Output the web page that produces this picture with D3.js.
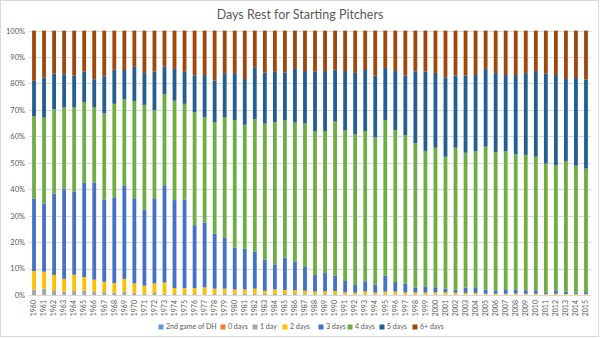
<!DOCTYPE html>
<html><head><meta charset="utf-8">
<script src="https://cdn.jsdelivr.net/npm/d3@7"></script>
<style>body{margin:0;background:#fff}svg{display:block}text{font-family:Lato,"Open Sans",sans-serif;fill:#595959}</style>
</head><body><svg id="c" width="600" height="339"></svg>
<script>
const years = d3.range(1960, 2016).map(String);
const seriesNames = ["2nd game of DH","0 days","1 day","2 days","3 days","4 days","5 days","6+ days"];
const seriesColors = ["#5B9BD5","#ED7D31","#A5A5A5","#FFC000","#4472C4","#70AD47","#255E91","#9E480E"];
const yTicks = [0,10,20,30,40,50,60,70,80,90,100];
// cumulative tops (percent), per year
const top1day = [2.1,2.4,1.8,1.3,1.5,1.6,1.4,1.1,0.9,1.4,0.8,0.5,0.8,0.5,0.4,0.4,0.3,0.3,0.4,0.6,0.5,0.5,0.5,0.4,0.4,0.4,0.4,0.3,0.3,0.3,0.3,0.2,0.2,0.2,0.2,0.2,0.2,0.2,0.2,0.2,0.2,0.2,0.2,0.2,0.2,0.1,0.1,0.1,0.1,0.1,0.1,0.1,0.1,0.1,0.1,0.1];
const top2days = [9.1,8.8,7.6,6.1,7.7,6.8,5.8,5.0,4.5,6.1,4.4,3.5,4.4,4.7,2.6,2.6,2.6,2.9,2.4,2.4,2.1,2.1,2.4,1.6,2.1,1.9,1.8,1.6,1.3,1.4,1.5,1.0,0.9,1.3,0.9,1.3,1.3,1.0,1.0,0.9,1.0,1.0,0.9,0.8,0.8,0.5,0.5,0.5,0.6,0.5,0.5,0.4,0.5,0.4,0.4,0.4];
const top3days = [36.4,34.6,38.3,40.0,39.0,42.4,42.6,36.1,36.7,41.5,36.6,32.3,36.6,41.5,35.9,36.1,26.4,27.4,23.2,21.6,17.9,17.5,16.4,13.4,11.6,14.1,12.7,10.6,7.6,8.6,7.3,5.3,3.8,5.2,3.9,7.3,4.9,4.3,2.8,3.3,2.9,2.4,2.0,2.8,2.9,2.0,1.6,1.9,2.1,1.8,1.5,1.0,1.6,1.3,0.9,1.1];
const top4days = [67.6,67.1,70.2,70.9,71.1,73.0,71.1,68.7,72.3,74.0,73.4,71.9,69.9,76.0,73.5,72.3,69.2,67.3,65.4,67.3,66.2,64.4,66.5,64.8,65.4,66.2,65.2,64.9,62.0,62.0,65.6,62.3,60.9,62.0,59.6,66.2,62.3,60.5,57.4,54.5,55.7,52.3,55.7,53.8,54.4,56.1,54.1,54.4,53.2,53.0,52.3,49.7,49.1,50.7,48.9,47.8];
const top5days = [81.0,82.2,83.7,83.5,83.0,84.5,81.6,82.7,85.2,85.1,86.3,84.0,84.5,86.4,85.5,84.4,83.1,83.2,81.1,83.9,83.9,81.7,85.9,84.1,84.4,84.1,85.5,84.7,84.6,84.7,85.2,84.7,84.0,85.1,83.0,85.9,84.7,83.0,84.6,84.5,84.0,82.3,83.0,83.0,83.2,85.5,84.0,83.2,83.2,83.9,84.7,83.7,83.2,81.7,82.1,81.5];
const dhVals = years.map(() => 0);
const zeroVals = years.map(() => 0);

const r = v => Math.round(v*10)/10;
const rows = years.map((y,i) => ({
  year: y,
  "2nd game of DH": dhVals[i],
  "0 days": zeroVals[i],
  "1 day": r(top1day[i]),
  "2 days": r(top2days[i]-top1day[i]),
  "3 days": r(top3days[i]-top2days[i]),
  "4 days": r(top4days[i]-top3days[i]),
  "5 days": r(top5days[i]-top4days[i]),
  "6+ days": r(100-top5days[i])
}));

const svg = d3.select("#c");
svg.append("rect").attr("x",0.5).attr("y",0.5).attr("width",598).attr("height",336)
  .attr("fill","#fff").attr("stroke","#d9d9d9");

const x = d3.scaleBand().domain(years).range([29,591]).paddingInner(0.62).paddingOuter(0.31);
const y = d3.scaleLinear().domain([0,100]).range([295,30.6]);

svg.append("text").attr("x",300).attr("y",19).attr("text-anchor","middle")
  .style("font-size","12.5px").text("Days Rest for Starting Pitchers");

svg.append("g").selectAll("line").data(yTicks).join("line")
  .attr("x1",29).attr("x2",591).attr("y1",d=>Math.round(y(d))+0.5).attr("y2",d=>Math.round(y(d))+0.5)
  .attr("stroke","#d9d9d9").attr("stroke-width",1);

const yAxis = d3.axisLeft(y).tickValues(yTicks).tickFormat(d=>d+"%").tickSize(0).tickPadding(0);
const ga = svg.append("g").attr("transform","translate(25,0)").call(yAxis);
ga.select(".domain").remove();
ga.selectAll("text").style("font-size","7.5px").style("font-family","Lato,sans-serif").attr("fill","#595959");

const stack = d3.stack().keys(seriesNames)(rows);
svg.append("g").selectAll("g").data(stack).join("g")
  .attr("fill",(d,i)=>seriesColors[i])
  .selectAll("rect").data(d=>d).join("rect")
  .attr("x",d=>x(d.data.year)).attr("width",x.bandwidth())
  .attr("y",d=>y(d[1])).attr("height",d=>Math.max(0,y(d[0])-y(d[1])));

const xAxis = d3.axisBottom(x).tickSize(0).tickPadding(0);
const gx = svg.append("g").attr("transform","translate(0,298)").call(xAxis);
gx.select(".domain").remove();
gx.selectAll("text").attr("transform","rotate(-90)").attr("text-anchor","end")
  .attr("x",-2).attr("y",0).attr("dy","0.32em")
  .style("font-size","7px").style("font-family","Lato,sans-serif").attr("fill","#595959");

const legendX = [161,223,255,285,321,350,382,415];
const lg = svg.append("g").selectAll("g").data(seriesNames).join("g")
  .attr("transform",(d,i)=>`translate(${legendX[i]},327)`);
lg.append("rect").attr("x",-2.5).attr("y",-2.5).attr("width",5).attr("height",5).attr("fill",(d,i)=>seriesColors[i]);
lg.append("text").attr("x",5).attr("y",0).attr("dy","0.35em").style("font-size","7px").text(d=>d);
</script></body></html>
